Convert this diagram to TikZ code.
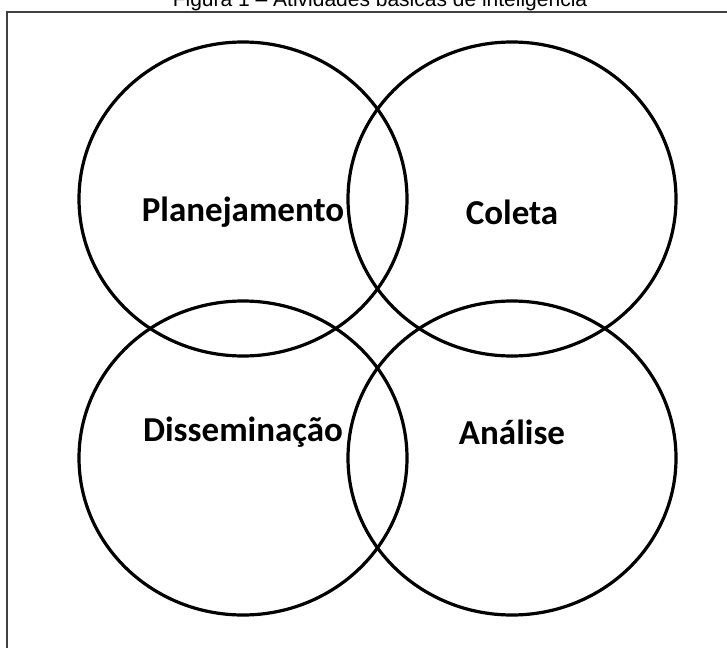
\documentclass[tikz,border=0pt]{standalone}
\usepackage{fontspec}
\setmainfont{Liberation Sans}
\newfontfamily\areafont{Carlito}
\usetikzlibrary{shapes.geometric}
\begin{document}
\begin{tikzpicture}[x=1pt, y=-1pt,
  area/.style={draw, line width=3.2pt, ellipse, minimum width=328pt, minimum height=314pt, inner sep=0pt},
  label/.style={font=\areafont\bfseries\fontsize{35}{42}\selectfont, inner sep=0pt},
  frameline/.style={draw=black!75, line width=2.2pt}]
  \useasboundingbox (0,0) rectangle (727,647);
  % title and frame
  \node[anchor=base, inner sep=0pt] (title) at (380,7) {\fontsize{21pt}{25pt}\selectfont Figura 1 -- Atividades básicas de inteligência};
  \draw[frameline] (7,660) -- (7,12) -- (740,12);
  % activities: x / circle y / text y / name / text
  \foreach \x/\y/\t/\name/\act in {243/199/212/plan/Planejamento, 512/199/212/col/Coleta,
    243/458/432/dis/Disseminação, 512/458/432/ana/Análise} {
    \node[area] (\name) at (\x,\y) {};
    \node[label] (\name-txt) at (\x,\t) {\act};
  }
\end{tikzpicture}
\end{document}
